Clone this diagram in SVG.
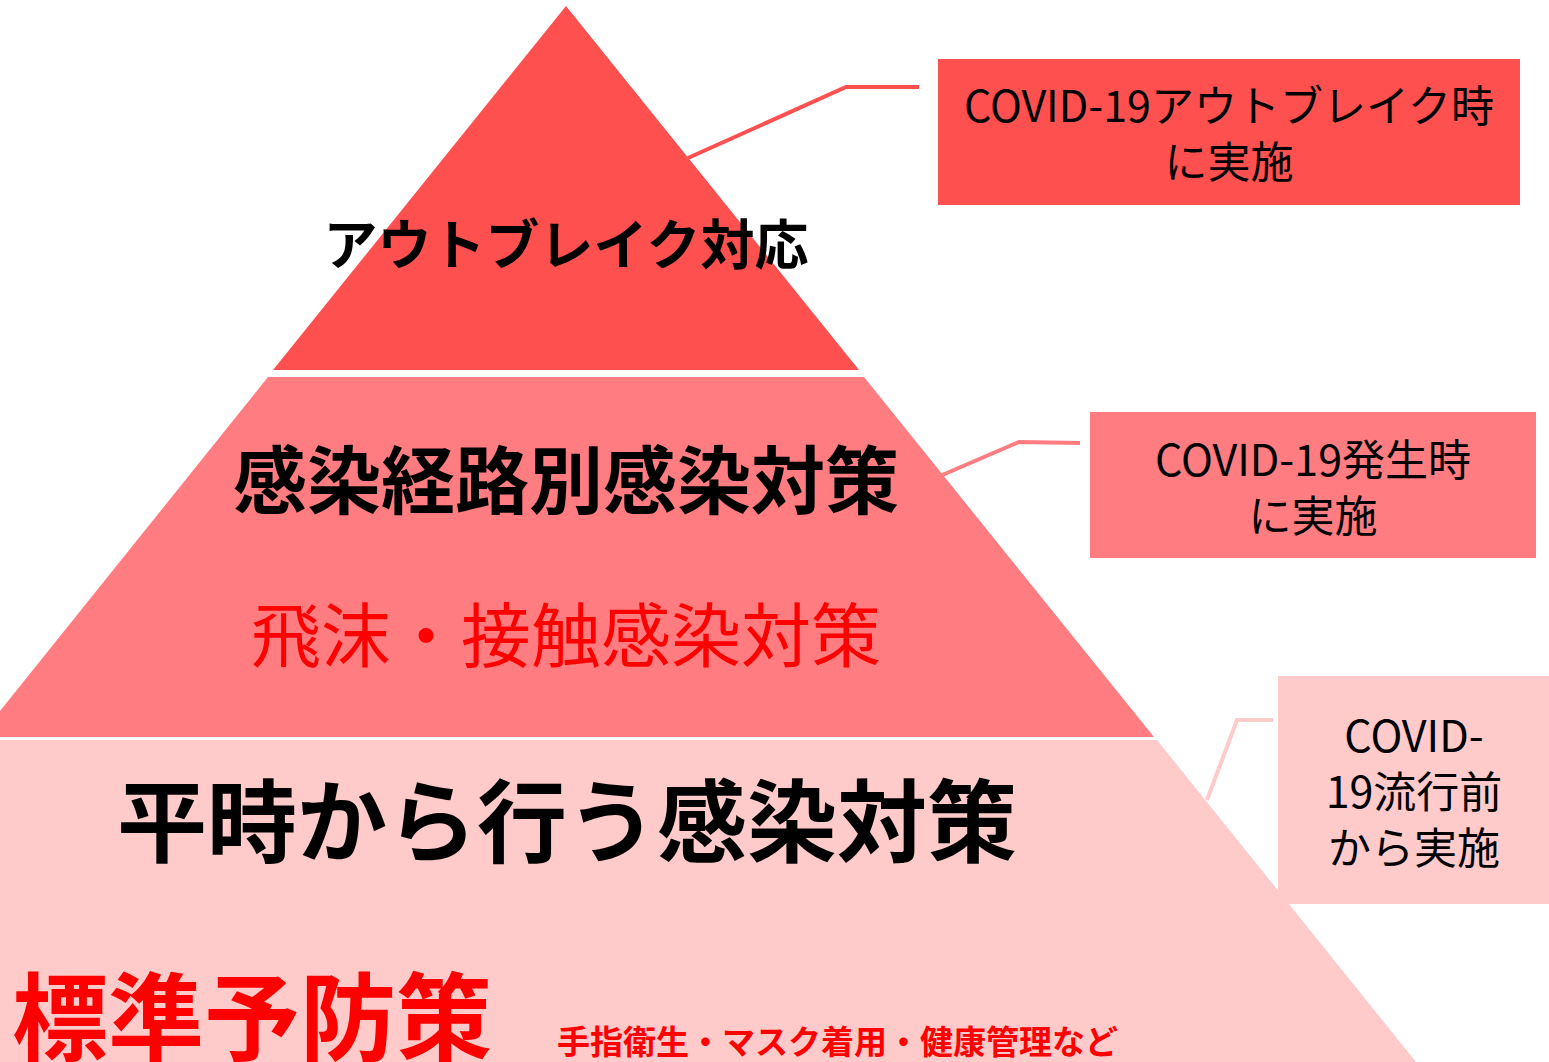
<svg xmlns="http://www.w3.org/2000/svg" width="1549" height="1062" viewBox="0 0 1549 1062">
<style>
.jp{font-family:"Noto Sans CJK JP","Liberation Sans",sans-serif}
.b{font-weight:700}
.c{text-anchor:middle}
.note{font-family:"Noto Sans CJK JP","Liberation Sans",sans-serif;font-size:43px;fill:#000;text-anchor:middle}
.con{fill:none;stroke-width:4}
</style>
<rect width="1549" height="1062" fill="#fff"/>
<g id="tier-top">
<polygon points="566,6 859,370 273,370" fill="#FF5050"/>
<text class="jp b c" x="566" y="265" font-size="54" fill="#000">アウトブレイク対応</text>
</g>
<g id="tier-middle">
<polygon points="268,377 864,377 1154,737 0,737 0,711" fill="#FF7C80"/>
<text class="jp b c" x="566" y="508" font-size="74" fill="#000">感染経路別感染対策</text>
<text class="jp c" x="566" y="662" font-size="70" fill="#FF0000">飛沫・接触感染対策</text>
</g>
<g id="tier-bottom">
<polygon points="0,740 1157,740 1416,1062 0,1062" fill="#FFCACA"/>
<text class="jp b c" x="567" y="855" font-size="90" fill="#000">平時から行う感染対策</text>
<text class="jp b" x="12" y="1053" font-size="96" fill="#FF0000">標準予防策</text>
<text class="jp b" x="557" y="1054" font-size="33" fill="#FF0000">手指衛生・マスク着用・健康管理など</text>
</g>
<g id="connectors">
<polyline class="con" points="688,158 846,87 919,87" stroke="#FF5050"/>
<polyline class="con" points="940,476 1019,442 1080,443" stroke="#FF7C80"/>
<polyline class="con" points="1207,800 1237,720 1273,720" stroke="#FFCACA"/>
</g>
<g id="note-outbreak">
<rect x="938" y="59" width="582" height="146" fill="#FF5050"/>
<text class="note" x="1229" y="122">COVID-19アウトブレイク時</text>
<text class="note" x="1229" y="178">に実施</text>
</g>
<g id="note-onset">
<rect x="1090" y="412" width="446" height="146" fill="#FF7C80"/>
<text class="note" x="1313" y="476">COVID-19発生時</text>
<text class="note" x="1313" y="532">に実施</text>
</g>
<g id="note-before">
<rect x="1278" y="676" width="271" height="228" fill="#FFCACA"/>
<text class="note" x="1414" y="752">COVID-</text>
<text class="note" x="1414" y="808">19流行前</text>
<text class="note" x="1414" y="864">から実施</text>
</g>
</svg>
